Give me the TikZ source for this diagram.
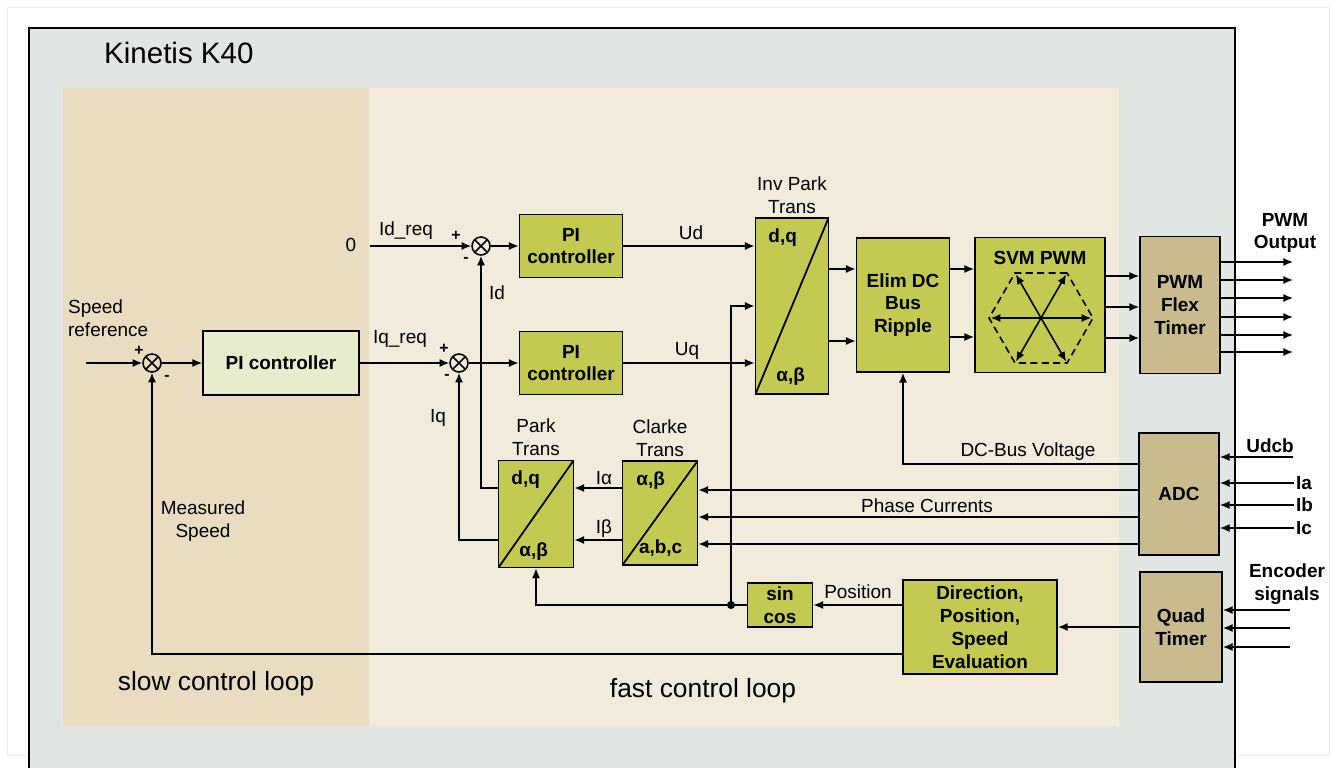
\documentclass[tikz,border=0pt]{standalone}
\usepackage{fontspec}
\setmainfont{Liberation Sans}
\usepackage{tikz}
\usetikzlibrary{arrows.meta,shapes.geometric,positioning}

\definecolor{kinetisgray}{RGB}{225,230,226}
\definecolor{slowtan}{RGB}{234,220,192}
\definecolor{fastcream}{RGB}{242,234,218}
\definecolor{blockgreen}{RGB}{196,201,82}
\definecolor{blocktan}{RGB}{200,187,142}
\definecolor{palegreen}{RGB}{232,235,204}

\tikzset{
  blk/.style={draw, line width=1pt, align=center, inner sep=0pt,
              font=\fontsize{10.8}{13}\selectfont\bfseries},
  greenblk/.style={blk, fill=blockgreen},
  tanblk/.style={blk, fill=blocktan},
  trans/.style={greenblk, path picture={\draw[line width=1pt]
      (path picture bounding box.south west) -- (path picture bounding box.north east);}},
  sumnode/.style={circle, draw, line width=0.9pt, minimum size=0.36cm, inner sep=0pt,
      path picture={\draw[line width=0.9pt]
        (path picture bounding box.south west) -- (path picture bounding box.north east)
        (path picture bounding box.north west) -- (path picture bounding box.south east);}},
  lbl/.style={font=\fontsize{10.8}{13}\selectfont, inner sep=1pt},
  lblb/.style={lbl, font=\fontsize{10.8}{13}\selectfont\bfseries},
  sgn/.style={font=\fontsize{9}{9}\selectfont\bfseries, inner sep=0pt},
  sig/.style={line width=0.9pt, -{Latex[length=5.5pt,width=4.6pt]}},
}

\begin{document}
\begin{tikzpicture}[x=0.02cm, y=-0.02cm]
  \clip (0,0) rectangle (1331,767);
  % background areas
  \fill[white, draw=black!8] (7,7) rectangle (1329,755);
  \draw[fill=kinetisgray, line width=1.2pt] (29,28) rectangle (1235,800);
  \fill[slowtan] (63,88) rectangle (369,726);
  \fill[fastcream] (369,88) rectangle (1119,726);

  \node[anchor=west, font=\fontsize{16.8}{20}\selectfont] (k40) at (98,53) {Kinetis K40};
  \node[font=\fontsize{15}{18}\selectfont] (slow) at (216,684) {slow control loop};
  \node[font=\fontsize{15}{18}\selectfont] (fast) at (703,691) {fast control loop};

  % blocks
  \node[blk, fill=palegreen, minimum width=3.12cm, minimum height=1.28cm] (pis) at (281,363) {PI controller};
  \node[greenblk, minimum width=2.06cm, minimum height=1.26cm] (pid) at (571,246) {PI\\controller};
  \node[greenblk, minimum width=2.06cm, minimum height=1.26cm] (piq) at (571,363) {PI\\controller};
  \node[trans, minimum width=1.46cm, minimum height=3.52cm] (invpark) at (792,306) {};
  \node[greenblk, minimum width=1.86cm, minimum height=2.68cm] (elim) at (903,305) {Elim DC\\Bus\\Ripple};
  \node[greenblk, minimum width=2.60cm, minimum height=2.70cm] (svm) at (1040,305) {};
  \node[tanblk, minimum width=1.60cm, minimum height=2.74cm] (pwm) at (1180,305) {PWM\\Flex\\Timer};
  \node[tanblk, minimum width=1.60cm, minimum height=2.44cm] (adc) at (1179,494) {ADC};
  \node[tanblk, minimum width=1.64cm, minimum height=2.20cm] (quad) at (1181,627) {Quad\\Timer};
  \node[greenblk, minimum width=3.08cm, minimum height=1.88cm] (dir) at (980,627) {Direction,\\Position,\\Speed\\Evaluation};
  \node[greenblk, minimum width=1.30cm, minimum height=0.88cm] (sincos) at (780,605) {sin\\cos};
  \node[trans, minimum width=1.50cm, minimum height=2.08cm] (clarke) at (660,513) {};
  \node[trans, minimum width=1.50cm, minimum height=2.14cm] (park) at (536,514) {};

  \node[lbl, align=center, above=1pt of invpark] (invparklbl) {Inv Park\\Trans};
  \node[lbl, align=center, above=1pt of park] (parklbl) {Park\\Trans};
  \node[lbl, align=center, above=1pt of clarke] (clarkelbl) {Clarke\\Trans};
  \path (invpark.north west) ++(28,20) node[lblb] (ipdq) {d,q};
  \path (invpark.south west) ++(36,-18) node[lblb] (ipab) {α,β};
  \path (park.north west) ++(28,20) node[lblb] (pdq) {d,q};
  \path (park.south west) ++(36,-17) node[lblb] (pab) {α,β};
  \path (clarke.north west) ++(29,20) node[lblb] (cab) {α,β};
  \path (clarke.south west) ++(39,-18) node[lblb] (cabc) {a,b,c};

  % SVM hexagon
  \node[lblb] (svmlbl) at (1040,258) {SVM PWM};
  \node[regular polygon, regular polygon sides=6, minimum size=2.08cm, inner sep=0pt,
        draw, line width=0.9pt, dash pattern=on 4pt off 2.5pt] (hex) at (1041,318) {};
  \foreach \i/\j in {1/4,2/5,3/6}
    \draw[line width=0.9pt, {Latex[length=5.5pt,width=4.6pt]}-{Latex[length=5.5pt,width=4.6pt]},
          shorten <=1.5pt, shorten >=1.5pt] (hex.corner \i) -- (hex.corner \j);

  % summing points
  \node[sumnode] (s1) at (152,363) {};
  \node[sumnode] (s2) at (481,246) {};
  \node[sumnode] (s3) at (459,363) {};
  \node[sgn] at (139,351) {+};
  \node[sgn] at (167,378) {-};
  \node[sgn] at (456,236) {+};
  \node[sgn] at (466,260) {-};
  \node[sgn] at (444,349) {+};
  \node[sgn] at (447,377) {-};

  % slow loop
  \node[lbl, align=left, anchor=west] (spdref) at (66,318) {Speed\\reference};
  \coordinate (spdin) at (86,363);
  \draw[sig] (spdin) -- (s1);
  \draw[sig] (s1) -- (pis);
  \draw[sig] (pis) -- (s3);
  \node[lbl] at (400,339) {Iq\_req};
  \draw[sig] (dir.west |- 0,654) -| (s1);
  \node[lbl, align=center] at (203,521) {Measured\\Speed};

  % current loops
  \node[lbl] (zero) at (351,245) {0};
  \coordinate (idin) at (370,246);
  \draw[sig] (idin) -- (s2);
  \node[lbl] at (406,231) {Id\_req};
  \draw[sig] (s2) -- (pid);
  \draw[sig] (s3) -- (piq);
  \draw[sig] (pid) -- (pid -| invpark.west);
  \draw[sig] (piq) -- (piq -| invpark.west);
  \node[lbl] at (691,233) {Ud};
  \node[lbl] at (687,351) {Uq};

  \draw[sig] (park.west |- 0,488) -| (s2);
  \draw[sig] (park.west |- 0,540) -| (s3);
  \node[lbl] at (497,293) {Id};
  \node[lbl] at (438,418) {Iq};

  \draw[sig] (clarke.west |- 0,488) -- (park.east |- 0,488);
  \draw[sig] (clarke.west |- 0,540) -- (park.east |- 0,540);
  \node[lbl] at (604,478) {Iα};
  \node[lbl] at (604,529) {Iβ};

  % position path
  \coordinate (jn) at (731,605);
  \draw[sig] (dir.west |- sincos) -- (sincos.east);
  \node[lbl] at (858,592) {Position};
  \draw[sig] (sincos.west) -- (jn) -| (park.south);
  \draw[sig] (jn) |- (invpark.west);
  \fill (jn) circle (2.3pt);

  % power stage
  \foreach \y in {269,341}
    \draw[sig] (invpark.east |- 0,\y) -- (elim.west |- 0,\y);
  \foreach \y in {269,337}
    \draw[sig] (elim.east |- 0,\y) -- (svm.west |- 0,\y);
  \foreach \y in {276,307,338}
    \draw[sig] (svm.east |- 0,\y) -- (pwm.west |- 0,\y);
  \foreach \y [count=\i] in {262,280,298,317,335,352} {
    \coordinate (out\i) at (1293,\y);
    \draw[sig] (out\i -| pwm.east) -- (out\i);
  }
  \node[lblb, align=center] (pwmout) at (1285,233) {PWM\\Output};

  % ADC
  \draw[sig] (adc.west |- 0,464) -| (elim.south);
  \node[lbl] at (1028,452) {DC-Bus Voltage};
  \foreach \y in {490,517,544}
    \draw[sig] (adc.west |- 0,\y) -- (clarke.east |- 0,\y);
  \node[lbl] at (927,506) {Phase Currents};
  \node[lblb] (udcb) at (1270,446) {Udcb};
  \coordinate (udcbin) at (1293,457);
  \draw[sig] (udcbin) -- (udcbin -| adc.east);
  \foreach \n/\y in {Ia/483,Ib/505,Ic/528} {
    \node[lblb, anchor=west] (\n) at (1294,\y) {\n};
    \draw[sig] (\n.west) -- (\n.west -| adc.east);
  }

  % encoder
  \node[lblb, align=center] (enclbl) at (1287,584) {Encoder\\signals};
  \foreach \y [count=\i] in {610,628,647} {
    \coordinate (enc\i) at (1290,\y);
    \draw[sig] (enc\i) -- (enc\i -| quad.east);
  }
  \draw[sig] (quad) -- (dir);
\end{tikzpicture}
\end{document}
